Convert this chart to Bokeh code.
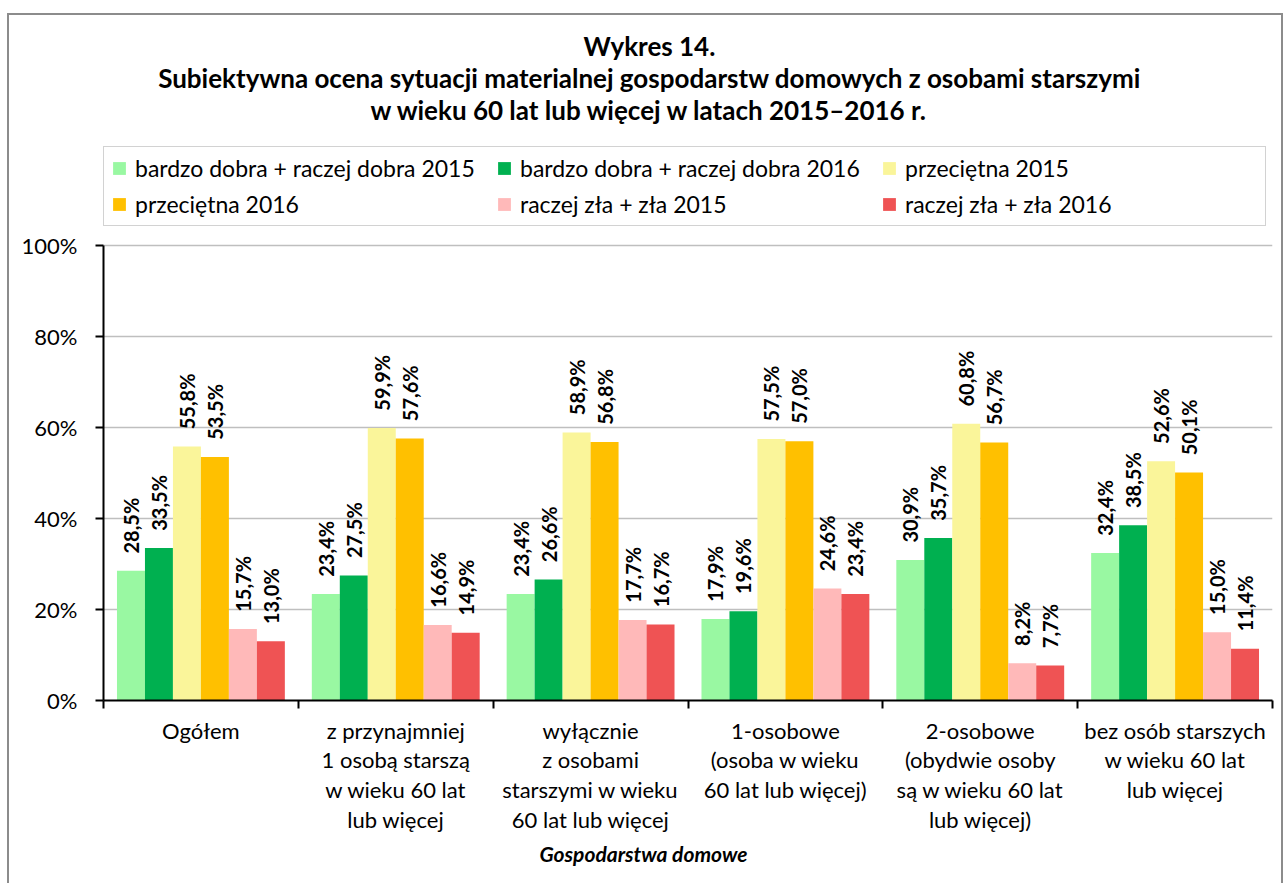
import numpy as np
from bokeh.plotting import figure
from bokeh.models import FixedTicker, Title, Legend, LegendItem, ColumnDataSource, Range1d, Label
from bokeh.core.properties import value
from bokeh.embed import file_html
from bokeh.resources import INLINE

categories = [
    "Ogółem",
    "z przynajmniej\n1 osobą starszą\nw wieku 60 lat\nlub więcej",
    "wyłącznie\nz osobami\nstarszymi w wieku\n60 lat lub więcej",
    "1-osobowe\n(osoba w wieku\n60 lat lub więcej)",
    "2-osobowe\n(obydwie osoby\nsą w wieku 60 lat\nlub więcej)",
    "bez osób starszych\nw wieku 60 lat\nlub więcej",
]
series_names = [
    "bardzo dobra + raczej dobra 2015",
    "bardzo dobra + raczej dobra 2016",
    "przeciętna 2015",
    "przeciętna 2016",
    "raczej zła + zła 2015",
    "raczej zła + zła 2016",
]
dobra_2015 = [28.5, 23.4, 23.4, 17.9, 30.9, 32.4]
dobra_2016 = [33.5, 27.5, 26.6, 19.6, 35.7, 38.5]
przecietna_2015 = [55.8, 59.9, 58.9, 57.5, 60.8, 52.6]
przecietna_2016 = [53.5, 57.6, 56.8, 57.0, 56.7, 50.1]
zla_2015 = [15.7, 16.6, 17.7, 24.6, 8.2, 15.0]
zla_2016 = [13.0, 14.9, 16.7, 23.4, 7.7, 11.4]
series_values = [dobra_2015, dobra_2016, przecietna_2015, przecietna_2016, zla_2015, zla_2016]
colors = ["#99F8A2", "#00B050", "#FAF59A", "#FFC000", "#FFB9B9", "#EF5354"]
y_ticks = [0, 20, 40, 60, 80, 100]
y_tick_labels = ["0%", "20%", "40%", "60%", "80%", "100%"]
title_lines = [
    "Wykres 14.",
    "Subiektywna ocena sytuacji materialnej gospodarstw domowych z osobami starszymi",
    "w wieku 60 lat lub więcej w latach 2015\u20132016 r.",
]
x_title = "Gospodarstwa domowe"

FONT = "Lato"
BAR_W = 0.1436
n_cat = len(categories)

# layout (pixels)
W, H = 1285, 883
FRAME_L, FRAME_R, FRAME_B = 103, 1272, 700
PLOT_H = 455                      # pixel height of 0..100 %
Y_MAX = 100.0 * FRAME_B / PLOT_H  # frame reaches to the top of the canvas

p = figure(width=W, height=H, x_range=Range1d(0, n_cat), y_range=Range1d(0, Y_MAX),
           output_backend="svg", toolbar_location=None,
           min_border_left=FRAME_L, min_border_right=W - FRAME_R,
           min_border_top=0, min_border_bottom=H - FRAME_B)
p.outline_line_color = None
p.border_fill_color = None
p.background_fill_color = None
g = "linear-gradient(#8C8C8C, #8C8C8C)"
p.styles = {
    "background-image": f"{g}, {g}, {g}",
    "background-size": "2px 880px, 1276px 2px, 2px 880px",
    "background-position": "7px 13px, 7px 13px, 1281px 13px",
    "background-repeat": "no-repeat",
}

items = []
for j, (name, vals, col) in enumerate(zip(series_names, series_values, colors)):
    xs = [i + 0.5 + (j - 2.5) * BAR_W for i in range(n_cat)]
    src = ColumnDataSource(dict(x=xs, top=vals,
                                lab=[f"{v:.1f}".replace(".", ",") + "%" for v in vals],
                                ly=[v + 3.8 for v in vals]))
    r = p.vbar(x="x", top="top", width=BAR_W, source=src, fill_color=col, line_color=None)
    p.text(x="x", y="ly", text="lab", source=src, angle=np.pi / 2, text_align="left",
           text_baseline="middle", text_font=value(FONT), text_font_style="bold",
           text_font_size="20px", text_color="#000000")
    items.append(LegendItem(label=name, renderers=[r]))

legend = Legend(items=items, orientation="horizontal", ncols=3, location=(0, FRAME_B - 226),
                label_text_font=FONT, label_text_font_size="23px", label_text_color="black",
                glyph_width=16, glyph_height=16, label_width=353, label_standoff=8,
                spacing=8, padding=7, margin=0,
                border_line_color="#A6A6A6", border_line_width=1.5,
                background_fill_color="white", background_fill_alpha=1.0)
p.add_layout(legend, "center")

title_cy = [45, 77, 109]
for line, cy in zip(title_lines, title_cy):
    p.add_layout(Label(x=649 - FRAME_L, y=FRAME_B - cy, x_units="screen", y_units="screen",
                       text=line, text_align="center", text_baseline="middle",
                       text_font=FONT, text_font_style="bold", text_font_size="26px",
                       text_color="black"))

# y axis
p.yaxis.ticker = FixedTicker(ticks=y_ticks)
p.yaxis.bounds = (0, 100)
p.yaxis.major_label_overrides = {t: l for t, l in zip(y_ticks, y_tick_labels)}
p.yaxis.major_tick_out = 8
p.yaxis.major_tick_in = 0
p.yaxis.minor_tick_line_color = None
p.yaxis.axis_line_width = 2
p.yaxis.major_tick_line_width = 2
p.yaxis.axis_line_color = "black"
p.yaxis.major_tick_line_color = "black"
p.yaxis.major_label_text_font = FONT
p.yaxis.major_label_text_font_size = "22px"
p.yaxis.major_label_text_color = "black"
p.yaxis.major_label_standoff = 18

p.ygrid.ticker = FixedTicker(ticks=y_ticks)
p.ygrid.grid_line_color = "#BFBFBF"
p.ygrid.grid_line_width = 1.5
p.xgrid.visible = False

# x axis
centers = [i + 0.5 for i in range(n_cat)]
p.xaxis.ticker = FixedTicker(ticks=centers, minor_ticks=list(range(n_cat + 1)))
p.xaxis.major_label_overrides = {c: l for c, l in zip(centers, categories)}
p.xaxis.major_tick_line_color = None
p.xaxis.major_tick_out = 8
p.xaxis.major_tick_in = 0
p.xaxis.minor_tick_out = 8
p.xaxis.minor_tick_in = 0
p.xaxis.minor_tick_line_color = "black"
p.xaxis.minor_tick_line_width = 2
p.xaxis.axis_line_width = 2
p.xaxis.axis_line_color = "black"
p.xaxis.major_label_text_font = FONT
p.xaxis.major_label_text_font_size = "22px"
p.xaxis.major_label_text_color = "black"
p.xaxis.major_label_text_line_height = 1.1
p.xaxis.major_label_standoff = 8

p.add_layout(Title(text=x_title, align="left", text_font=FONT, text_font_style="bold italic",
                   text_font_size="21px", text_color="black", offset=436, standoff=6), "below")

open("out.html", "w").write(file_html(p, INLINE))
